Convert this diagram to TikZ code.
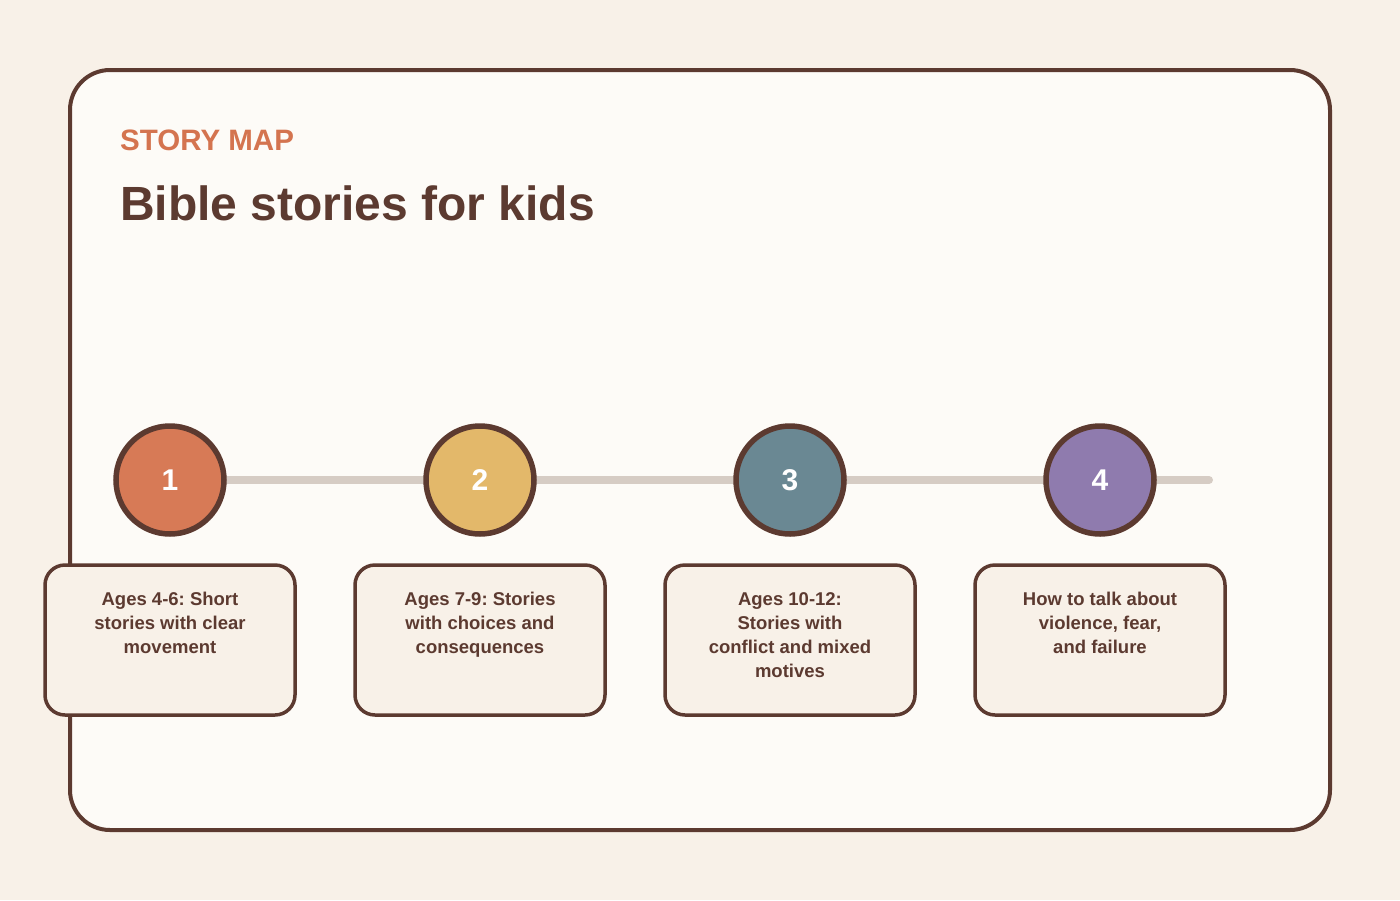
\documentclass[tikz,border=0pt]{standalone}
\usepackage{fontspec}
\setmainfont{Liberation Sans}
\usetikzlibrary{backgrounds}
\frenchspacing
\definecolor{bgc}{HTML}{F8F1E8}
\definecolor{cardc}{HTML}{FDFBF7}
\definecolor{brownc}{HTML}{5C3A30}
\definecolor{accentc}{HTML}{D4744F}
\definecolor{linec}{HTML}{D6CCC4}
\definecolor{c1c}{HTML}{D77A56}
\definecolor{c2c}{HTML}{E3B86A}
\definecolor{c3c}{HTML}{6A8893}
\definecolor{c4c}{HTML}{8F7BAE}
\begin{document}
\begin{tikzpicture}[x=1pt,y=-1pt,
  stepcircle/.style={circle, draw=brownc, line width=5.5pt, minimum size=108pt, inner sep=0pt,
    text=white, font=\fontsize{30}{36}\selectfont\bfseries},
  stepbox/.style={rectangle, rounded corners=20pt, draw=brownc, line width=3.5pt, fill=bgc,
    minimum width=250pt, minimum height=150pt, inner sep=0pt},
  steptext/.style={anchor=north, inner sep=0pt, align=center, text=brownc,
    font=\fontsize{18.5}{24}\selectfont\bfseries},
  track/.style={line width=8pt, draw=linec, line cap=round}]
\useasboundingbox (0,0) rectangle (1400,900);
\node[anchor=base west, inner sep=0pt, text=accentc, font=\fontsize{29.5}{34}\selectfont\bfseries]
  (kicker) at (120,150) {STORY MAP};
\node[anchor=base west, inner sep=0pt, text=brownc, font=\fontsize{48}{56}\selectfont\bfseries]
  (title) at (120,220) {Bible stories for kids};
\coordinate (trackend) at (1209,480);
\node[stepcircle, fill=c1c] (n1) at (170,480) {\raisebox{-2pt}{1}};
\node[stepcircle, fill=c2c] (n2) at (480,480) {\raisebox{-2pt}{2}};
\node[stepcircle, fill=c3c] (n3) at (790,480) {\raisebox{-2pt}{3}};
\node[stepcircle, fill=c4c] (n4) at (1100,480) {\raisebox{-2pt}{4}};
\begin{scope}[on background layer]
\fill[bgc] (0,0) rectangle (1400,900);
\node[rectangle, rounded corners=40pt, draw=brownc, line width=4pt, fill=cardc,
  minimum width=1260pt, minimum height=760pt, inner sep=0pt] (card) at (700,450) {};
\draw[track] (n1.center) -- (trackend);
\end{scope}
\node[stepbox] (b1) at (170,640) {};
\node[stepbox] (b2) at (480,640) {};
\node[stepbox] (b3) at (790,640) {};
\node[stepbox] (b4) at (1100,640) {};
\node[steptext] (t1) at (170,592) {Ages 4-6: Short\\stories with clear\\movement};
\node[steptext] (t2) at (480,592) {Ages 7-9: Stories\\with choices and\\consequences};
\node[steptext] (t3) at (790,592) {Ages 10-12:\\Stories with\\conflict and mixed\\motives};
\node[steptext] (t4) at (1100,592) {How to talk about\\violence, fear,\\and failure};
\end{tikzpicture}
\end{document}
